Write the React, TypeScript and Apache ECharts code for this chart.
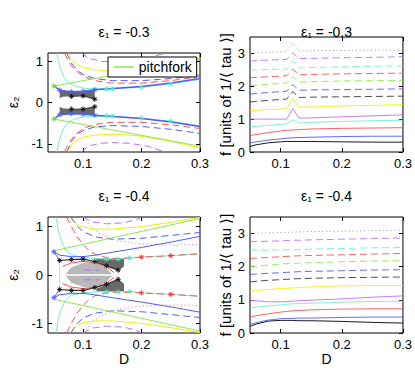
import React, { useEffect, useRef } from 'react';
import * as echarts from 'echarts';

// ---------------- data ----------------
// right panels: frequency f vs D
const fD = [0.05, 0.06, 0.08, 0.1, 0.11, 0.12, 0.13, 0.15, 0.2, 0.25, 0.3];
// top-right (eps1 = -0.3)
const trBlack = [0.17, 0.22, 0.28, 0.31, 0.32, 0.32, 0.32, 0.32, 0.31, 0.3, 0.3];
const trBlue = [0.28, 0.31, 0.36, 0.4, 0.42, 0.43, 0.44, 0.45, 0.47, 0.48, 0.48];
const trRed = [0.5, 0.53, 0.59, 0.64, 0.66, 0.67, 0.68, 0.7, 0.72, 0.73, 0.74];
const trCyan = [0.77, 0.78, 0.81, 0.84, 0.86, 0.98, 0.88, 0.9, 0.93, 0.95, 0.97];
const trPurple = [1.0, 1.0, 1.0, 1.0, 1.0, 1.32, 1.03, 1.04, 1.07, 1.1, 1.13];
const trYellow = [1.26, 1.27, 1.29, 1.31, 1.32, 1.63, 1.36, 1.37, 1.4, 1.42, 1.44];
const trBlackD = [1.52, 1.54, 1.57, 1.6, 1.61, 1.84, 1.66, 1.67, 1.68, 1.69, 1.7];
const trBlueD = [1.76, 1.78, 1.81, 1.84, 1.85, 2.05, 1.88, 1.89, 1.9, 1.91, 1.92];
const trGreenD = [2.02, 2.03, 2.06, 2.09, 2.1, 2.3, 2.13, 2.14, 2.16, 2.17, 2.18];
const trRedD = [2.26, 2.27, 2.29, 2.31, 2.32, 2.52, 2.35, 2.36, 2.38, 2.39, 2.4];
const trCyanD = [2.5, 2.5, 2.51, 2.52, 2.52, 2.77, 2.56, 2.57, 2.59, 2.61, 2.62];
const trPurpleD = [2.77, 2.78, 2.8, 2.81, 2.82, 3.02, 2.84, 2.85, 2.87, 2.88, 2.9];
const trGrayDot = [3.0, 3.01, 3.03, 3.05, 3.06, 3.32, 3.08, 3.08, 3.09, 3.1, 3.1];
// bottom-right (eps1 = -0.4)
const brBlack = [0.2, 0.27, 0.36, 0.38, 0.38, 0.38, 0.37, 0.37, 0.35, 0.32, 0.3];
const brBlue = [0.26, 0.31, 0.39, 0.43, 0.44, 0.44, 0.45, 0.45, 0.47, 0.48, 0.48];
const brRed = [0.48, 0.52, 0.58, 0.63, 0.65, 0.67, 0.68, 0.7, 0.72, 0.73, 0.73];
const brCyan = [0.76, 0.78, 0.82, 0.85, 0.87, 0.88, 0.89, 0.9, 0.93, 0.95, 0.96];
const brPurple = [0.99, 0.97, 0.94, 0.94, 0.95, 0.96, 0.97, 0.99, 1.03, 1.08, 1.12];
const brYellow = [1.26, 1.28, 1.31, 1.34, 1.35, 1.36, 1.37, 1.39, 1.42, 1.43, 1.43];
const brBlackD = [1.54, 1.56, 1.59, 1.61, 1.62, 1.63, 1.64, 1.65, 1.67, 1.68, 1.69];
const brBlueD = [1.77, 1.78, 1.8, 1.82, 1.83, 1.84, 1.85, 1.86, 1.88, 1.9, 1.91];
const brGreenD = [2.0, 2.02, 2.05, 2.08, 2.09, 2.1, 2.11, 2.12, 2.15, 2.17, 2.18];
const brRedD = [2.25, 2.26, 2.28, 2.3, 2.31, 2.32, 2.33, 2.34, 2.36, 2.38, 2.4];
const brCyanD = [2.5, 2.5, 2.5, 2.51, 2.51, 2.52, 2.52, 2.53, 2.55, 2.57, 2.58];
const brPurpleD = [2.75, 2.76, 2.77, 2.78, 2.79, 2.8, 2.8, 2.81, 2.83, 2.85, 2.87];
const brGrayDot = [3.0, 3.01, 3.02, 3.03, 3.04, 3.04, 3.05, 3.06, 3.07, 3.09, 3.1];

// left panels: (D, eps2) curves
// top-left (eps1 = -0.3)
const tlGreenUp = [[0.05, 0.4], [0.3, 1.05]];
const tlGreenLo = [[0.05, -0.4], [0.3, -1.06]];
const tlBlueUp = [[0.05, 0.4], [0.06, 0.3], [0.08, 0.26], [0.1, 0.27], [0.12, 0.31], [0.15, 0.34], [0.2, 0.39], [0.25, 0.47], [0.3, 0.58]];
const tlBlueLo = [[0.05, -0.4], [0.06, -0.3], [0.08, -0.27], [0.1, -0.28], [0.12, -0.31], [0.15, -0.34], [0.2, -0.39], [0.25, -0.47], [0.3, -0.58]];
const tlBlackUp = [[0.08, 0.15], [0.1, 0.16], [0.12, 0.08]];
const tlBlackLo = [[0.08, -0.16], [0.1, -0.16], [0.12, -0.1]];
const tlCyanUp = [[0.055, 1.2], [0.058, 1.0], [0.062, 0.8], [0.067, 0.62], [0.075, 0.48], [0.085, 0.4], [0.1, 0.35], [0.12, 0.33], [0.14, 0.33], [0.15, 0.33], [0.2, 0.37], [0.25, 0.45], [0.3, 0.56]];
const tlCyanLo = [[0.055, -1.2], [0.058, -1.0], [0.062, -0.8], [0.067, -0.62], [0.075, -0.48], [0.085, -0.4], [0.1, -0.35], [0.12, -0.33], [0.14, -0.33], [0.15, -0.33], [0.2, -0.38], [0.25, -0.45], [0.3, -0.57]];
const tlYellowUp = [[0.074, 1.2], [0.08, 1.05], [0.09, 0.92], [0.1, 0.85], [0.12, 0.79], [0.15, 0.76], [0.18, 0.78], [0.2, 0.81], [0.25, 0.92], [0.3, 1.08]];
const tlYellowLo = [[0.074, -1.2], [0.08, -1.03], [0.09, -0.9], [0.1, -0.84], [0.12, -0.79], [0.15, -0.77], [0.18, -0.79], [0.2, -0.82], [0.25, -0.94], [0.3, -1.1]];
const tlRedDUp = [[0.068, 1.2], [0.075, 1.0], [0.085, 0.8], [0.1, 0.64], [0.12, 0.53], [0.15, 0.47], [0.2, 0.47], [0.25, 0.53], [0.3, 0.63]];
const tlRedDLo = [[0.068, -1.2], [0.075, -1.0], [0.085, -0.8], [0.1, -0.63], [0.12, -0.53], [0.15, -0.48], [0.2, -0.48], [0.25, -0.54], [0.3, -0.63]];
const tlBlueDUp = [[0.072, 1.2], [0.08, 0.96], [0.09, 0.78], [0.1, 0.68], [0.12, 0.58], [0.15, 0.53], [0.2, 0.53], [0.25, 0.58], [0.3, 0.67]];
const tlBlueDLo = [[0.072, -1.2], [0.08, -0.95], [0.09, -0.77], [0.1, -0.68], [0.12, -0.59], [0.15, -0.56], [0.2, -0.58], [0.25, -0.65], [0.3, -0.75]];
const tlPurpleDUp = [[0.097, 1.2], [0.11, 1.07], [0.13, 1.0], [0.15, 0.98], [0.18, 1.0], [0.21, 1.07], [0.24, 1.2]];
const tlPurpleDLo = [[0.097, -1.2], [0.11, -1.05], [0.13, -0.99], [0.15, -0.97], [0.18, -0.99], [0.21, -1.06], [0.24, -1.2]];
const tlGreenStars = [[0.05, 0.4], [0.05, -0.4]];
const tlBlueStars = [[0.06, 0.3], [0.08, 0.26], [0.1, 0.27], [0.12, 0.31], [0.06, -0.3], [0.08, -0.27], [0.1, -0.28], [0.12, -0.31]];
const tlBlackStars = [[0.08, 0.15], [0.1, 0.16], [0.12, 0.08], [0.08, -0.16], [0.1, -0.16], [0.12, -0.1]];
const tlCyanStars = [[0.14, 0.33], [0.15, 0.33], [0.2, 0.37], [0.25, 0.45], [0.14, -0.33], [0.15, -0.33], [0.2, -0.38], [0.25, -0.45]];
const tlDarkFill = [[0.06, 0.3], [0.08, 0.26], [0.1, 0.27], [0.12, 0.31], [0.12, -0.31], [0.1, -0.28], [0.08, -0.27], [0.06, -0.3]];
const tlWhiteFill = [[0.057, 0], [0.058, 0.09], [0.065, 0.14], [0.08, 0.15], [0.1, 0.16], [0.12, 0.08], [0.123, 0], [0.12, -0.1], [0.1, -0.16], [0.08, -0.16], [0.065, -0.14], [0.058, -0.09]];

// bottom-left (eps1 = -0.4)
const blGreenUp = [[0.05, 0.5], [0.3, 1.17]];
const blGreenLo = [[0.05, -0.5], [0.3, -1.16]];
const blBlueUp = [[0.05, 0.48], [0.06, 0.41], [0.08, 0.38], [0.1, 0.38], [0.12, 0.41], [0.15, 0.47], [0.2, 0.57], [0.25, 0.68], [0.3, 0.8]];
const blBlueLo = [[0.05, -0.47], [0.06, -0.41], [0.08, -0.38], [0.1, -0.38], [0.12, -0.41], [0.15, -0.47], [0.2, -0.56], [0.25, -0.66], [0.3, -0.77]];
const blBlueLinkUp = [[0.05, 0.48], [0.06, 0.3]];
const blBlueLinkLo = [[0.05, -0.47], [0.06, -0.3]];
const blBlackUp = [[0.06, 0.3], [0.08, 0.32], [0.1, 0.33], [0.12, 0.28], [0.14, 0.19], [0.16, 0.1]];
const blBlackLo = [[0.06, -0.3], [0.08, -0.32], [0.1, -0.32], [0.12, -0.26], [0.14, -0.19], [0.16, -0.09]];
const blCyanUp = [[0.054, 1.2], [0.057, 0.95], [0.062, 0.72], [0.07, 0.52], [0.08, 0.42], [0.1, 0.36], [0.12, 0.34], [0.14, 0.33], [0.16, 0.33], [0.18, 0.35], [0.2, 0.37], [0.25, 0.4], [0.3, 0.44]];
const blCyanLo = [[0.054, -1.2], [0.057, -0.95], [0.062, -0.72], [0.07, -0.52], [0.08, -0.42], [0.1, -0.37], [0.12, -0.35], [0.14, -0.35], [0.16, -0.35], [0.18, -0.34], [0.2, -0.37], [0.25, -0.4], [0.3, -0.44]];
const blRedDUp = [[0.072, 1.2], [0.08, 1.0], [0.09, 0.79], [0.1, 0.63], [0.11, 0.51], [0.12, 0.43], [0.14, 0.36], [0.16, 0.34], [0.2, 0.37], [0.25, 0.4], [0.3, 0.44]];
const blRedDLo = [[0.072, -1.2], [0.08, -1.0], [0.09, -0.79], [0.1, -0.63], [0.11, -0.51], [0.12, -0.43], [0.14, -0.37], [0.16, -0.35], [0.2, -0.37], [0.25, -0.4], [0.3, -0.44]];
const blBlueDUp = [[0.079, 1.2], [0.09, 1.01], [0.1, 0.9], [0.12, 0.79], [0.15, 0.74], [0.2, 0.76], [0.25, 0.82], [0.3, 0.88]];
const blBlueDLo = [[0.079, -1.2], [0.09, -1.0], [0.1, -0.89], [0.12, -0.79], [0.15, -0.74], [0.2, -0.76], [0.25, -0.82], [0.3, -0.88]];
const blRedDotUp = [[0.1, 1.2], [0.115, 0.98], [0.13, 0.84], [0.16, 0.71], [0.2, 0.64], [0.25, 0.62], [0.3, 0.63]];
const blRedDotLo = [[0.1, -1.2], [0.115, -0.98], [0.13, -0.84], [0.16, -0.71], [0.2, -0.64], [0.25, -0.62], [0.3, -0.63]];
const blYellowUp = [[0.077, 1.2], [0.09, 1.04], [0.1, 0.99], [0.12, 0.95], [0.15, 0.95], [0.2, 1.0], [0.25, 1.09], [0.3, 1.19]];
const blYellowLo = [[0.077, -1.2], [0.09, -1.04], [0.1, -0.99], [0.12, -0.95], [0.15, -0.95], [0.2, -1.0], [0.25, -1.09], [0.3, -1.19]];
const blPurpleDUp = [[0.1, 1.2], [0.115, 1.1], [0.14, 1.06], [0.17, 1.08], [0.19, 1.14], [0.2, 1.2]];
const blPurpleDLo = [[0.1, -1.2], [0.115, -1.1], [0.14, -1.06], [0.17, -1.08], [0.19, -1.14], [0.2, -1.2]];
const blRedUp = [[0.065, 0.18], [0.08, 0.25], [0.1, 0.28], [0.12, 0.26], [0.14, 0.17], [0.153, 0.05]];
const blRedLo = [[0.065, -0.18], [0.08, -0.25], [0.1, -0.28], [0.12, -0.26], [0.14, -0.17], [0.153, -0.05]];
const blPurpleInUp = [[0.102, 0.1], [0.128, 0.1]];
const blPurpleInLo = [[0.102, -0.1], [0.128, -0.1]];
const blLensLine = [[0.069, 0], [0.151, 0]];
const blGrayVert = [[0.06, 0.3], [0.06, -0.3]];
const blBlueStars = [[0.05, 0.48], [0.05, -0.47]];
const blBlackStars = [[0.06, 0.3], [0.08, 0.32], [0.1, 0.33], [0.12, 0.28], [0.14, 0.19], [0.16, 0.1], [0.06, -0.3], [0.08, -0.32], [0.1, -0.32], [0.12, -0.26], [0.14, -0.19], [0.16, -0.09]];
const blCyanStars = [[0.14, 0.33], [0.16, 0.33], [0.18, 0.35], [0.14, -0.35], [0.16, -0.35], [0.18, -0.34]];
const blRedStars = [[0.2, 0.37], [0.25, 0.4], [0.2, -0.37], [0.25, -0.4]];
const blLensFill = [[0.069, 0], [0.08, 0.16], [0.1, 0.25], [0.112, 0.27], [0.125, 0.24], [0.14, 0.14], [0.151, 0], [0.14, -0.14], [0.125, -0.24], [0.112, -0.27], [0.1, -0.25], [0.08, -0.16]];
const blDarkUp = [[0.123, 0.34], [0.17, 0.34], [0.17, 0.18], [0.162, 0.1], [0.15, 0.14], [0.14, 0.19], [0.13, 0.25], [0.123, 0.28]];
const blDarkLo = [[0.123, -0.34], [0.17, -0.34], [0.17, -0.18], [0.162, -0.1], [0.15, -0.14], [0.14, -0.19], [0.13, -0.25], [0.123, -0.28]];

const xTicks = [0.1, 0.2, 0.3];
const epsTicks = [-1, 0, 1];
const fTicks = [0, 1, 2, 3];
const titles = ['ε₁ = -0.3', 'ε₁ = -0.3', 'ε₁ = -0.4', 'ε₁ = -0.4'];

// ---------------- styling ----------------
const FONT = '"Liberation Sans", Arial, Helvetica, sans-serif';
const C = {
  black: '#000000', dblack: '#3a3a3a', blue: '#4f5dff', red: '#ff4f4f', cyan: '#72f0cc',
  purple: '#c46bff', yellow: '#eeee10', green: '#8de84c', gray: '#9a9a9a',
};
const DASH = [7, 4];
const DOT = [1.2, 2.6];

const GRIDS = [
  { left: 48, top: 53, width: 152, height: 99 },
  { left: 250, top: 37, width: 153, height: 115 },
  { left: 48, top: 217, width: 152, height: 116 },
  { left: 250, top: 217, width: 153, height: 116 },
];

function ln(g: number, data: any, color: string, type: any = 'solid', width = 1, name?: string, z = 3) {
  return {
    type: 'line', name, xAxisIndex: g, yAxisIndex: g, data, symbol: 'none', showSymbol: false,
    silent: true, z, lineStyle: { color, width, type }, itemStyle: { color }, emphasis: { disabled: true },
  };
}
// MATLAB-like asterisk markers, placed through the axes' scales
function stars(g: number, data: any, color: string) {
  return {
    type: 'custom', xAxisIndex: g, yAxisIndex: g, data, z: 6, silent: true,
    renderItem: (params: any, api: any) => {
      const p = api.coord([api.value(0), api.value(1)]);
      const cx = p[0], cy = p[1];
      const r = 2.6, d = 1.85;
      const st = { stroke: color, lineWidth: 0.9 };
      return {
        type: 'group',
        children: [
          { type: 'line', shape: { x1: cx - r, y1: cy, x2: cx + r, y2: cy }, style: st },
          { type: 'line', shape: { x1: cx, y1: cy - r, x2: cx, y2: cy + r }, style: st },
          { type: 'line', shape: { x1: cx - d, y1: cy - d, x2: cx + d, y2: cy + d }, style: st },
          { type: 'line', shape: { x1: cx - d, y1: cy + d, x2: cx + d, y2: cy - d }, style: st },
        ],
      };
    },
  };
}
function poly(g: number, pts: number[][], color: string, z = 1) {
  return {
    type: 'custom', xAxisIndex: g, yAxisIndex: g, data: pts, z, silent: true,
    renderItem: (params: any, api: any) => {
      if (params.dataIndex !== 0) return { type: 'group', children: [] };
      return { type: 'polygon', shape: { points: pts.map((p) => api.coord(p)) }, style: { fill: color } };
    },
  };
}
const fSeries = (g: number, arr: number[], color: string, type: any = 'solid') =>
  ln(g, fD.map((d, i) => [d, arr[i]]), color, type, 0.9);

const axisLabelStyle = { fontFamily: FONT, fontSize: 13, color: '#000' };
const nameStyle = { fontFamily: FONT, fontSize: 14, color: '#000' };

function buildOption() {
  const xAxis: any[] = [];
  const yAxis: any[] = [];
  for (let g = 0; g < 4; g++) {
    const left = g % 2 === 0;
    const bottom = g >= 2;
    const xmin = left ? 0.04 : 0.05;
    xAxis.push({
      type: 'value', gridIndex: g, min: xmin, max: 0.3, position: 'bottom',
      axisLine: { show: false, onZero: false }, splitLine: { show: false },
      axisTick: { inside: true, length: 4, lineStyle: { color: '#000' }, customValues: xTicks },
      axisLabel: { ...axisLabelStyle, margin: 5, customValues: xTicks },
      name: bottom ? 'D' : '', nameLocation: 'middle', nameGap: 13, nameTextStyle: nameStyle,
    });
    const ymin = left ? -1.2 : 0;
    const ymax = left ? 1.2 : 3.5;
    const yt = left ? epsTicks : fTicks;
    yAxis.push({
      type: 'value', gridIndex: g, min: ymin, max: ymax,
      axisLine: { show: false, onZero: false }, splitLine: { show: false },
      axisTick: { inside: true, length: 4, lineStyle: { color: '#000' }, customValues: yt },
      axisLabel: { ...axisLabelStyle, margin: 5, customValues: yt },
      name: left ? 'ε₂' : 'f [units of 1/⟨ tau ⟩]', nameLocation: 'middle', nameRotate: 90,
      nameGap: left ? 28 : 17, nameTextStyle: left ? nameStyle : { ...nameStyle, fontSize: 15 },
    });
  }
  for (let g = 0; g < 4; g++) {
    const left = g % 2 === 0;
    xAxis.push({
      type: 'value', gridIndex: g, min: left ? 0.04 : 0.05, max: 0.3, position: 'top',
      axisLine: { show: false, onZero: false }, splitLine: { show: false }, axisLabel: { show: false },
      axisTick: { inside: true, length: 4, lineStyle: { color: '#000' }, customValues: xTicks },
    });
    yAxis.push({
      type: 'value', gridIndex: g, min: left ? -1.2 : 0, max: left ? 1.2 : 3.5, position: 'right',
      axisLine: { show: false, onZero: false }, splitLine: { show: false }, axisLabel: { show: false },
      axisTick: { inside: true, length: 4, lineStyle: { color: '#000' }, customValues: left ? epsTicks : fTicks },
    });
  }

  const series: any[] = [];
  // --- top-left ---
  series.push(poly(0, tlDarkFill, '#686868', 1));
  series.push(poly(0, tlWhiteFill, '#ffffff', 2));
  series.push(ln(0, tlCyanUp, C.cyan), ln(0, tlCyanLo, C.cyan));
  series.push(ln(0, tlYellowUp, C.yellow), ln(0, tlYellowLo, C.yellow));
  series.push(ln(0, tlPurpleDUp, C.purple, DASH), ln(0, tlPurpleDLo, C.purple, DASH));
  series.push(ln(0, tlBlueDUp, C.blue, DASH), ln(0, tlBlueDLo, C.blue, DASH));
  series.push(ln(0, tlRedDUp, C.red, DASH), ln(0, tlRedDLo, C.red, DASH));
  series.push(ln(0, tlGreenUp, C.green, 'solid', 1, 'pitchfork'), ln(0, tlGreenLo, C.green, 'solid', 1, 'pitchfork'));
  series.push(ln(0, tlBlueUp, C.blue, 'solid', 1.5), ln(0, tlBlueLo, C.blue, 'solid', 1.5));
  series.push(ln(0, tlBlackUp, '#333', 'solid', 0.9), ln(0, tlBlackLo, '#333', 'solid', 0.9));
  series.push(stars(0, tlGreenStars, '#66dd33'), stars(0, tlBlueStars, C.blue), stars(0, tlBlackStars, '#111'), stars(0, tlCyanStars, '#55e8c0'));
  // --- top-right ---
  const trList: [number[], string, any][] = [
    [trBlack, C.black, 'solid'], [trBlue, C.blue, 'solid'], [trRed, C.red, 'solid'], [trCyan, C.cyan, 'solid'],
    [trPurple, C.purple, 'solid'], [trYellow, C.yellow, 'solid'], [trBlackD, C.dblack, DASH], [trBlueD, C.blue, DASH],
    [trGreenD, C.green, DASH], [trRedD, C.red, DASH], [trCyanD, C.cyan, DASH], [trPurpleD, C.purple, DASH],
    [trGrayDot, C.gray, DOT],
  ];
  trList.forEach(([a, c, t]) => series.push(fSeries(1, a, c, t)));
  // --- bottom-left ---
  series.push(poly(2, blDarkUp, '#686868', 1), poly(2, blDarkLo, '#686868', 1));
  series.push(poly(2, blLensFill, '#b8b8b8', 2));
  series.push(ln(2, blLensLine, '#ffffff', 'solid', 1.5));
  series.push(ln(2, blGrayVert, '#d0d0d0', 'solid', 1));
  series.push(ln(2, blPurpleInUp, C.purple, DASH), ln(2, blPurpleInLo, C.purple, DASH));
  series.push(ln(2, blCyanUp, C.cyan), ln(2, blCyanLo, C.cyan));
  series.push(ln(2, blYellowUp, C.yellow), ln(2, blYellowLo, C.yellow));
  series.push(ln(2, blPurpleDUp, C.purple, DASH), ln(2, blPurpleDLo, C.purple, DASH));
  series.push(ln(2, blRedDotUp, '#ff8080', DOT), ln(2, blRedDotLo, '#ff8080', DOT));
  series.push(ln(2, blBlueDUp, C.blue, DASH), ln(2, blBlueDLo, C.blue, DASH));
  series.push(ln(2, blRedDUp, C.red, DASH), ln(2, blRedDLo, C.red, DASH));
  series.push(ln(2, blRedUp, C.red), ln(2, blRedLo, C.red));
  series.push(ln(2, blGreenUp, C.green), ln(2, blGreenLo, C.green));
  series.push(ln(2, blBlueUp, C.blue), ln(2, blBlueLo, C.blue));
  series.push(ln(2, blBlueLinkUp, C.blue), ln(2, blBlueLinkLo, C.blue));
  series.push(ln(2, blBlackUp, '#333', 'solid', 1.2), ln(2, blBlackLo, '#333', 'solid', 1.2));
  series.push(stars(2, blBlueStars, C.blue), stars(2, blBlackStars, '#111'), stars(2, blCyanStars, '#55e8c0'), stars(2, blRedStars, '#ff3030'));
  // --- bottom-right ---
  const brList: [number[], string, any][] = [
    [brBlack, C.black, 'solid'], [brBlue, C.blue, 'solid'], [brRed, C.red, 'solid'], [brCyan, C.cyan, 'solid'],
    [brPurple, C.purple, 'solid'], [brYellow, C.yellow, 'solid'], [brBlackD, C.dblack, DASH], [brBlueD, C.blue, DASH],
    [brGreenD, C.green, DASH], [brRedD, C.red, DASH], [brCyanD, C.cyan, DASH], [brPurpleD, C.purple, DASH],
    [brGrayDot, C.gray, DOT],
  ];
  brList.forEach(([a, c, t]) => series.push(fSeries(3, a, c, t)));

  const centers = GRIDS.map((g) => g.left + g.width / 2);
  const titleTops = [25, 25, 189, 189];

  return {
    animation: false,
    backgroundColor: '#ffffff',
    textStyle: { fontFamily: FONT },
    title: titles.map((t, i) => ({
      text: t, left: centers[i], top: titleTops[i], textAlign: 'center', padding: 0,
      textStyle: { fontFamily: FONT, fontSize: 14, fontWeight: 'normal', color: '#000' },
    })),
    grid: GRIDS.map((g) => ({ ...g, show: true, borderColor: '#000', borderWidth: 1, backgroundColor: 'transparent' })),
    legend: {
      data: ['pitchfork'], left: 108, top: 57, orient: 'horizontal', selectedMode: false,
      backgroundColor: '#ffffff', borderColor: '#000', borderWidth: 1, padding: [3, 5, 3, 5],
      itemWidth: 20, itemHeight: 14, itemGap: 5, z: 20,
      itemStyle: { opacity: 0 },
      lineStyle: { color: C.green, width: 1.5 },
      textStyle: { fontFamily: FONT, fontSize: 14, color: '#000' },
    },
    xAxis, yAxis, series,
  };
}

export default function App() {
  const ref = useRef<HTMLDivElement>(null);
  useEffect(() => {
    if (!ref.current) return;
    const chart = echarts.init(ref.current, undefined, { renderer: 'svg' });
    chart.setOption(buildOption() as any);
    return () => chart.dispose();
  }, []);
  return <div ref={ref} style={{ position: 'fixed', left: 0, top: 0, width: 415, height: 368, background: '#fff' }} />;
}
